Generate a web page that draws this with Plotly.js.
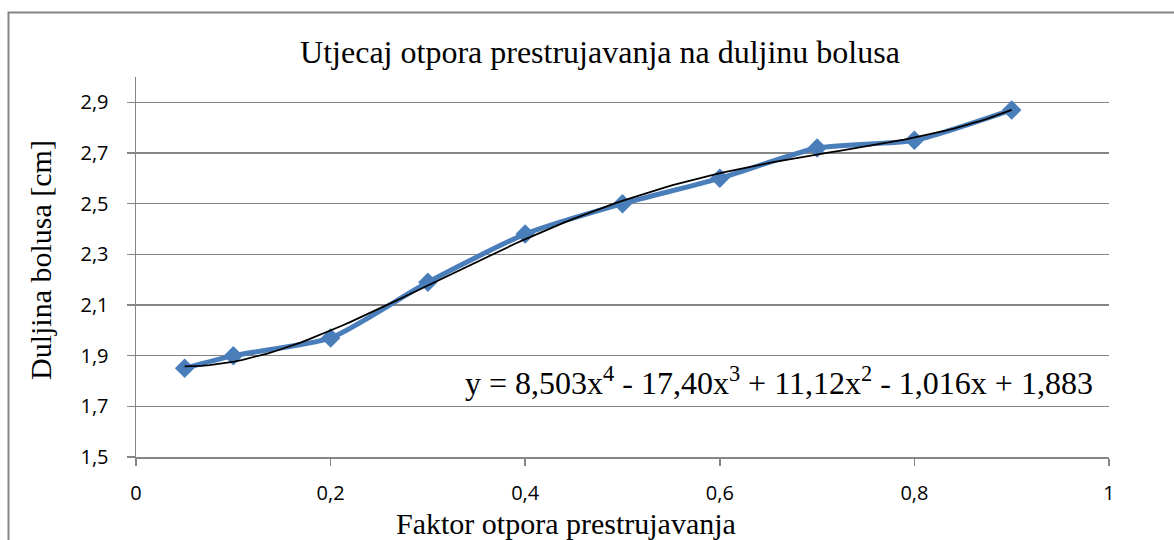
<!DOCTYPE html>
<html>
<head>
<meta charset="utf-8">
<script src="https://cdn.plot.ly/plotly-3.0.1.min.js"></script>
<style>html,body{margin:0;padding:0;background:#fff;}#chart{width:1174px;height:540px;}</style>
</head>
<body>
<div id="chart"></div>
<script>
// Data
const factor = [0.05, 0.1, 0.2, 0.3, 0.4, 0.5, 0.6, 0.7, 0.8, 0.9];
const bolusLength = [1.85, 1.90, 1.97, 2.19, 2.38, 2.50, 2.60, 2.72, 2.75, 2.87];
// Trendline coefficients shown on the chart (x^4, x^3, x^2, x, 1)
const trendCoefs = [8.503, -17.40, 11.12, -1.016, 1.883];
const xTickVals = [0, 0.2, 0.4, 0.6, 0.8, 1];
const xTickText = ['0', '0,2', '0,4', '0,6', '0,8', '1'];
const yTickVals = [1.5, 1.7, 1.9, 2.1, 2.3, 2.5, 2.7, 2.9];
const yTickText = ['1,5', '1,7', '1,9', '2,1', '2,3', '2,5', '2,7', '2,9'];

const trendX = [], trendY = [];
const x0 = factor[0], x1 = factor[factor.length - 1];
for (let i = 0; i <= 100; i++) {
  const x = x0 + (x1 - x0) * i / 100;
  let y = 0;
  for (let k = 0; k < trendCoefs.length; k++) y = y * x + trendCoefs[k];
  trendX.push(x); trendY.push(y);
}

const serif = 'Liberation Serif';
const sans = 'Open Sans';

const data = [
  {x: factor, y: bolusLength, type: 'scatter', mode: 'lines+markers',
   line: {color: '#4a7ebb', width: 5, shape: 'spline', smoothing: 0.6},
   marker: {symbol: 'diamond', size: 15, color: '#4a7ebb'}, hoverinfo: 'none'},
  {x: trendX, y: trendY, type: 'scatter', mode: 'lines',
   line: {color: '#000000', width: 1.8}, hoverinfo: 'none'}
];

const layout = {
  width: 1174, height: 540,
  margin: {l: 136, r: 65, t: 77, b: 83},
  paper_bgcolor: '#ffffff', plot_bgcolor: '#ffffff',
  showlegend: false,
  font: {family: sans, size: 20, color: '#000'},
  title: {text: 'Utjecaj otpora prestrujavanja na duljinu bolusa',
          font: {family: serif, size: 32, color: '#000'},
          x: 600/1174, xanchor: 'center', y: 1 - 52/540, yanchor: 'middle'},
  xaxis: {range: [0, 1], tickvals: xTickVals, ticktext: xTickText,
          showgrid: false, zeroline: false, showline: true, linecolor: '#868686', linewidth: 1.5,
          ticks: 'outside', ticklen: 7, tickcolor: '#868686', tickwidth: 1.5,
          tickfont: {family: sans, size: 20, color: '#000'}, ticklabelstandoff: 10},
  yaxis: {range: [1.5, 3.0], tickvals: yTickVals, ticktext: yTickText,
          showgrid: true, gridcolor: '#868686', gridwidth: 1.5, zeroline: false,
          showline: true, linecolor: '#868686', linewidth: 1.5,
          ticks: 'outside', ticklen: 8, tickcolor: '#868686', tickwidth: 1.5,
          tickfont: {family: sans, size: 20, color: '#000'}, ticklabelstandoff: 14},
  annotations: [
    {text: 'Duljina bolusa [cm]', xref: 'paper', yref: 'paper', textangle: -90,
     x: (40 - 136) / 973, y: (457 - 260) / 380, xanchor: 'center', yanchor: 'middle',
     showarrow: false, font: {family: serif, size: 30, color: '#000'}},
    {text: 'Faktor otpora prestrujavanja', xref: 'paper', yref: 'paper',
     x: (566 - 136) / 973, y: (457 - 523) / 380, xanchor: 'center', yanchor: 'middle',
     showarrow: false, font: {family: serif, size: 30, color: '#000'}},
    {text: 'y = 8,503x<sup>4</sup> - 17,40x<sup>3</sup> + 11,12x<sup>2</sup> - 1,016x + 1,883',
     xref: 'paper', yref: 'paper', x: (1095 - 136) / 973, y: (457 - 381) / 380,
     xanchor: 'right', yanchor: 'middle', showarrow: false,
     font: {family: serif, size: 32, color: '#000'}}
  ],
  shapes: [
    {type: 'rect', xref: 'paper', yref: 'paper',
     x0: (8.5 - 136) / 973, x1: 1.2, y0: -0.4, y1: (457 - 12.5) / 380,
     line: {color: '#868686', width: 2}, fillcolor: 'rgba(0,0,0,0)', layer: 'below'}
  ]
};

Plotly.newPlot('chart', data, layout, {displayModeBar: false, staticPlot: true});
</script>
</body>
</html>
